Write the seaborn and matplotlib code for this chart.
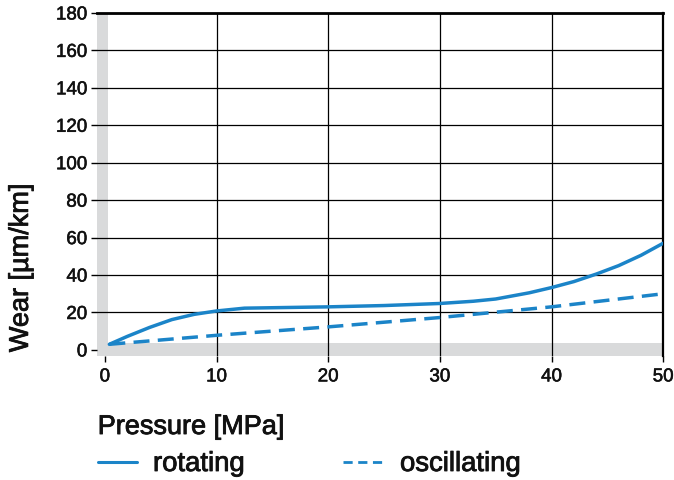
import matplotlib
matplotlib.use("Agg")
import matplotlib.pyplot as plt
import matplotlib.patheffects as pe
import seaborn as sns
import pandas as pd
from matplotlib.lines import Line2D

rot_x = [0.4, 2, 4, 6, 8, 10, 12.5, 20, 25, 30, 33, 35, 38, 40, 42, 44, 46, 48, 50]
rot_y = [3, 7.2, 12, 16.2, 19, 20.8, 22.3, 23, 23.7, 24.8, 26, 27.2, 30.5, 33.3, 36.5, 40.5, 45, 50.5, 57]
osc_x = [0.4, 10, 20, 30, 40, 50]
osc_y = [3, 7.8, 12.3, 17.3, 23, 30]
x_ticks = [0, 10, 20, 30, 40, 50]
y_ticks = [0, 20, 40, 60, 80, 100, 120, 140, 160, 180]
series_names = ["rotating", "oscillating"]

df = pd.concat([
    pd.DataFrame({"x": rot_x, "y": rot_y, "s": series_names[0]}),
    pd.DataFrame({"x": osc_x, "y": osc_y, "s": series_names[1]}),
])

sns.set_theme(style="white")
plt.rcParams['font.family'] = ['Liberation Sans', 'DejaVu Sans']

color = "#1b84c8"
txt = "#111111"
heavy = [pe.withStroke(linewidth=0.6, foreground=txt)]
fig = plt.figure(figsize=(6.74, 4.81), dpi=100)
ax = fig.add_axes([0.144, 0.258, 0.840, 0.713])

ax.axvspan(-0.7, 0.3, color="#d9dadb", zorder=0, lw=0)
ax.axhspan(-3.2, 3.6, color="#d9dadb", zorder=0, lw=0)

sns.lineplot(data=df[df.s == "rotating"], x="x", y="y", ax=ax, color=color,
             lw=2.5, legend=False, zorder=3)
sns.lineplot(data=df[df.s == "oscillating"], x="x", y="y", ax=ax, color=color,
             lw=2.5, legend=False, zorder=3)
ax.lines[-1].set_dashes([4.6, 2.4])

ax.set_xlim(-0.7, 50)
ax.set_ylim(-3.2, 180)
ax.set_xticks(x_ticks)
ax.set_yticks(y_ticks)
for v in x_ticks[1:]:
    ax.axvline(v, color="black", lw=0.9, zorder=1)
for v in y_ticks[1:]:
    ax.axhline(v, color="black", lw=0.9, zorder=1)

for side in ["left", "bottom"]:
    ax.spines[side].set_visible(False)
ax.spines["top"].set_linewidth(2)
ax.spines["right"].set_linewidth(1.6)
ax.spines["top"].set_color("black")
ax.spines["right"].set_color("black")

ax.tick_params(axis="both", which="both", length=4, width=1, color="black",
               labelsize=13.5, labelcolor=txt, direction="out",
               left=True, bottom=True)
ax.tick_params(axis="x", pad=5)
ax.tick_params(axis="y", pad=3)
ax.set_xlabel("")
ax.set_ylabel("")
for t in ax.get_xticklabels() + ax.get_yticklabels():
    t.set_path_effects([pe.withStroke(linewidth=0.4, foreground=txt)])

fig.text(0.031, 0.441, "Wear [µm/km]", rotation=90, fontsize=19.5,
         ha="center", va="center", color=txt, path_effects=heavy)
fig.text(0.145, 0.0956, "Pressure [MPa]", fontsize=19.5, ha="left",
         va="baseline", color=txt, path_effects=heavy)

# legend
ly = 1 - 463 / 481
fig.add_artist(Line2D([98 / 674, 137 / 674], [ly, ly], color=color, lw=2.2,
                      transform=fig.transFigure))
fig.add_artist(Line2D([343 / 674, 385 / 674], [ly, ly], color=color, lw=2.0,
                      dashes=[3.3, 2.0], transform=fig.transFigure))
lb = 1 - 472 / 481
fig.text(153 / 674, lb, series_names[0], fontsize=19.8, ha="left",
         va="baseline", color=txt, path_effects=heavy)
fig.text(400 / 674, lb, series_names[1], fontsize=19.8, ha="left",
         va="baseline", color=txt, path_effects=heavy)

fig.savefig("out.png", dpi=100)
